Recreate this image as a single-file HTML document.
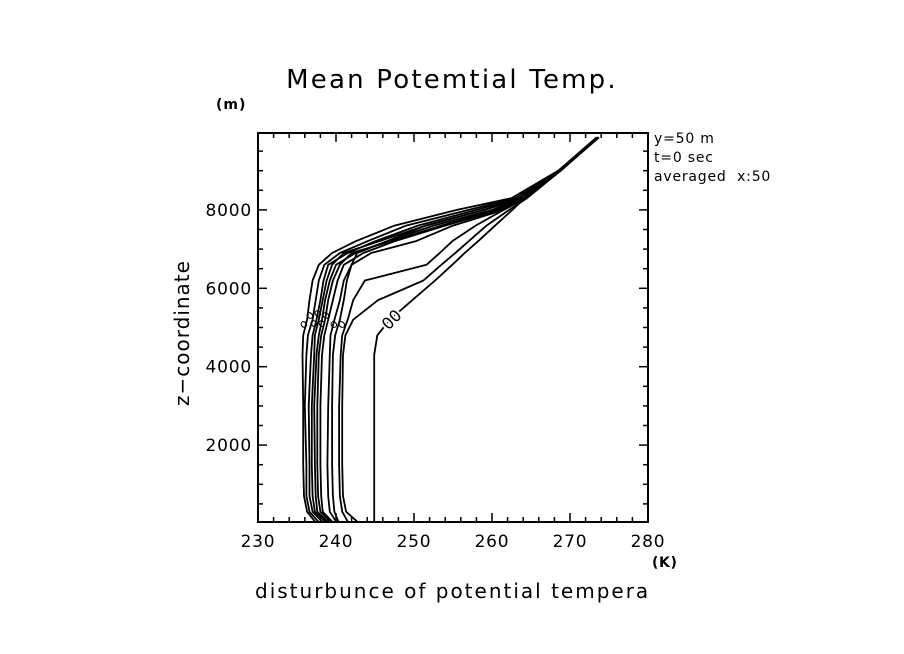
<!DOCTYPE html>
<html><head><meta charset="utf-8"><style>
html,body{margin:0;padding:0;background:#fff;}
svg{display:block;font-family:"DejaVu Sans","Liberation Sans",sans-serif;}
</style></head><body>
<svg id="chart" width="904" height="654" viewBox="0 0 904 654">
<rect width="904" height="654" fill="#fff"/>
<text x="452" y="88" font-size="26" letter-spacing="2.2" text-anchor="middle">Mean Potemtial Temp.</text>
<text x="216" y="109" font-size="14" font-weight="bold" letter-spacing="1">(m)</text>
<text transform="translate(189,333) rotate(-90)" font-size="20" letter-spacing="1" text-anchor="middle">z−coordinate</text>
<text x="652" y="567" font-size="14" font-weight="bold" letter-spacing="0.6">(K)</text>
<text x="255" y="598" font-size="20" letter-spacing="2.0">disturbunce of potential tempera</text>
<svg x="650" y="126" width="126" height="70">
<text x="4" y="17" font-size="14" letter-spacing="0.8">y=50 m</text>
<text x="4" y="36" font-size="14" letter-spacing="0.8">t=0 sec</text>
<text x="4" y="55" font-size="14" letter-spacing="0.8" xml:space="preserve">averaged  x:50</text>
</svg>
<g id="axes"></g>
<g id="series"></g>
<g id="labels"></g>
</svg>
<script>
const xTicks = [230, 240, 250, 260, 270, 280];
const yTicks = [2000, 4000, 6000, 8000];
const zLevels = [50, 300, 700, 1500, 3000, 4300, 4800, 5200, 5700, 6200, 6600, 6900, 7200, 7600, 8000, 8300, 9000, 9850];
const seriesInitial = [244.9, 244.9, 244.9, 244.9, 244.9, 244.9, 245.3, 246.9, 249.8, 252.7, 254.9, 256.5, 258.2, 260.4, 262.6, 264.2, 268.6, 273.7];
const series1 = [237.3, 236.3, 235.9, 235.8, 235.8, 235.7, 235.8, 236.3, 236.6, 237.0, 237.8, 239.5, 242.5, 247.5, 255.5, 262.5, 268.5, 273.4];
const series2 = [237.7, 236.6, 236.2, 236.2, 236.0, 236.2, 236.4, 237.0, 237.4, 237.8, 238.5, 240.5, 244.0, 249.0, 257.0, 263.0, 268.6, 273.5];
const series3 = [238.2, 237.0, 236.6, 236.6, 236.5, 236.8, 237.0, 237.5, 238.0, 238.4, 239.0, 241.5, 245.0, 250.5, 258.0, 263.5, 268.7, 273.6];
const series4 = [238.6, 237.3, 237.0, 236.9, 236.9, 237.2, 237.3, 237.8, 238.3, 238.8, 239.5, 241.0, 245.5, 251.5, 259.0, 263.5, 268.6, 273.5];
const series5 = [238.9, 237.6, 237.4, 237.3, 237.2, 237.5, 237.8, 238.2, 238.6, 239.2, 240.0, 242.5, 246.5, 252.5, 260.0, 264.0, 268.7, 273.6];
const series6 = [239.2, 238.0, 237.7, 237.6, 237.6, 237.8, 238.1, 238.6, 239.0, 239.6, 240.5, 242.0, 247.0, 253.5, 260.5, 264.0, 268.8, 273.7];
const series7 = [239.5, 238.3, 238.1, 238.0, 238.0, 238.2, 238.5, 239.0, 239.6, 240.2, 241.0, 243.5, 247.5, 254.0, 261.0, 264.2, 268.8, 273.6];
const series8 = [240.0, 239.2, 239.0, 238.9, 239.0, 239.2, 239.3, 239.8, 240.5, 241.0, 242.0, 242.7, 246.5, 251.5, 259.0, 264.0, 268.8, 273.6];
const series9 = [240.3, 239.8, 239.6, 239.5, 239.5, 239.6, 239.9, 240.5, 241.0, 241.4, 242.0, 244.5, 250.2, 255.0, 261.5, 264.3, 268.8, 273.6];
const series10 = [241.5, 240.8, 240.5, 240.4, 240.4, 240.6, 240.8, 241.5, 242.2, 243.7, 251.6, 253.3, 254.9, 257.9, 261.5, 264.3, 268.8, 273.6];
const series11 = [242.7, 241.3, 240.9, 240.8, 240.8, 240.9, 241.2, 242.2, 245.4, 251.2, 253.5, 255.3, 257.0, 259.3, 262.2, 264.5, 268.8, 273.6];
const allSeries = [series1, series2, series3, series4, series5, series6, series7, series8, series9, series10, series11, seriesInitial];

const X0 = 258, X1 = 648, Y0 = 522, Y1 = 133;
const xs = t => X0 + (t - 230) * (X1 - X0) / 50;
const ys = z => 523.5 - z * 0.0392;
const NS = "http://www.w3.org/2000/svg";
function mk(tag, attrs, parent) {
  const e = document.createElementNS(NS, tag);
  for (const k in attrs) e.setAttribute(k, attrs[k]);
  parent.appendChild(e);
  return e;
}
const axes = document.getElementById('axes');
const frame = mk('rect', {x: X0, y: Y1, width: X1 - X0, height: Y0 - Y1, fill: 'none', stroke: '#000', 'stroke-width': 2}, axes);


for (let t = 230; t <= 280; t += 2) {
  const major = (t % 10 === 0);
  const L = major ? 9 : 5;
  mk('line', {x1: xs(t), x2: xs(t), y1: Y0, y2: Y0 - L, stroke: '#000', 'stroke-width': 1.5}, axes);
  mk('line', {x1: xs(t), x2: xs(t), y1: Y1, y2: Y1 + L, stroke: '#000', 'stroke-width': 1.5}, axes);
}
for (let z = 500; z <= 9500; z += 500) {
  const major = (z % 2000 === 0);
  const L = major ? 9 : 5;
  mk('line', {x1: X0, x2: X0 + L, y1: ys(z), y2: ys(z), stroke: '#000', 'stroke-width': 1.5}, axes);
  mk('line', {x1: X1, x2: X1 - L, y1: ys(z), y2: ys(z), stroke: '#000', 'stroke-width': 1.5}, axes);
}
xTicks.forEach(t => {
  const tx = mk('text', {x: xs(t), y: 547, 'font-size': 17, 'letter-spacing': 0.8, 'text-anchor': 'middle'}, axes);
  tx.textContent = t;
  
  
});
yTicks.forEach(z => {
  const tx = mk('text', {x: 252, y: ys(z) + 6, 'font-size': 17, 'letter-spacing': 0.8, 'text-anchor': 'end'}, axes);
  tx.textContent = z;
  
  
});
const sg = document.getElementById('series');
allSeries.forEach((s, i) => {
  const d = s.map((t, j) => (j ? 'L' : 'M') + xs(t).toFixed(1) + ',' + ys(zLevels[j]).toFixed(1)).join(' ');
  const p = mk('path', {d: d, fill: 'none', stroke: '#000', 'stroke-width': 1.8, 'stroke-linejoin': 'round'}, sg);
  
  
});
const lg = document.getElementById('labels');
const lbl = mk('text', {x: 392, y: 325, 'font-size': 16, 'text-anchor': 'middle', transform: 'rotate(-45 392 320)', stroke: '#fff', 'stroke-width': 4, 'paint-order': 'stroke', fill: '#000'}, lg);
lbl.textContent = '00';


const clusterPos = [[312, 318], [320, 316], [328, 318], [316, 326], [306, 327], [324, 326], [336, 327], [344, 327]];
clusterPos.forEach(p => {
  const t = mk('text', {x: p[0], y: p[1], 'font-size': 12, 'text-anchor': 'middle', transform: 'rotate(-40 ' + p[0] + ' ' + p[1] + ')'}, lg);
  t.textContent = 'o';
  
  
});
</script>
</body></html>
